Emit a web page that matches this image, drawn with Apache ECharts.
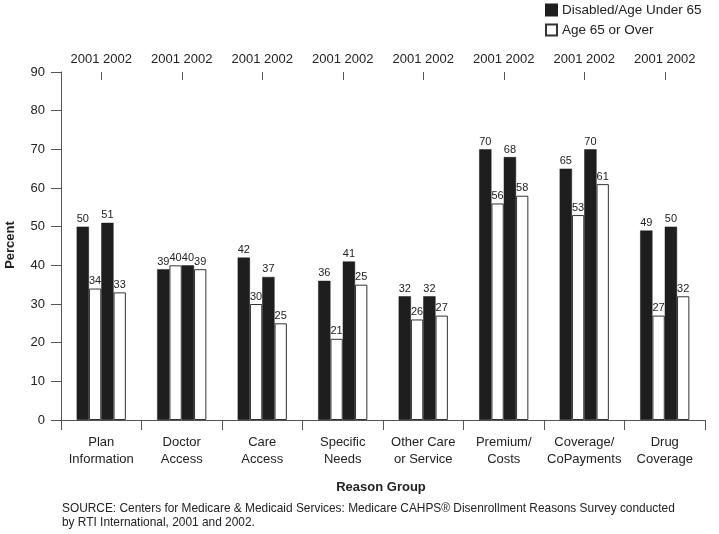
<!DOCTYPE html>
<html>
<head>
<meta charset="utf-8">
<script src="https://cdn.jsdelivr.net/npm/echarts@6/dist/echarts.min.js"></script>
<style>html,body{margin:0;padding:0;background:#fff}#c{width:719px;height:534px}</style>
</head>
<body>
<div id="c"></div>
<script>
const categories = ['Plan\nInformation', 'Doctor\nAccess', 'Care\nAccess', 'Specific\nNeeds', 'Other Care\nor Service', 'Premium/\nCosts', 'Coverage/\nCoPayments', 'Drug\nCoverage'];
const yearLabel = '2001 2002';
const disabled2001 = [50, 39, 42, 36, 32, 70, 65, 49];
const age2001 = [34, 40, 30, 21, 26, 56, 53, 27];
const disabled2002 = [51, 40, 37, 41, 32, 68, 70, 50];
const age2002 = [33, 39, 25, 35, 27, 58, 61, 32];
const age2002Labels = ['33', '39', '25', '25', '27', '58', '61', '32'];
const yTicks = { min: 0, max: 90, interval: 10 };

const FONT = "'Liberation Sans', Arial, sans-serif";
const TXT = '#222';

const chart = echarts.init(document.getElementById('c'), null, { renderer: 'canvas' });

function barSeries(name, data, dark, labels) {
  return {
    name: name,
    type: 'bar',
    xAxisIndex: 0,
    data: data,
    barWidth: 12.3,
    barGap: '0%',
    itemStyle: dark
      ? { color: '#1e1e1e', borderColor: '#1e1e1e', borderWidth: 0.5 }
      : { color: '#ffffff', borderColor: '#333333', borderWidth: 1 },
    label: {
      show: true,
      position: 'top',
      distance: 2,
      fontFamily: FONT,
      fontSize: 11,
      color: TXT,
      formatter: labels ? (p) => labels[p.dataIndex] : '{c}'
    },
    emphasis: { disabled: true },
    animation: false
  };
}

const option = {
  backgroundColor: '#fff',
  animation: false,
  textStyle: { fontFamily: FONT },
  legend: {
    data: ['Disabled/Age Under 65', 'Age 65 or Over'],
    orient: 'vertical',
    left: 545,
    top: 3,
    padding: 0,
    icon: 'rect',
    itemWidth: 11,
    itemHeight: 11,
    itemGap: 6,
    textStyle: { fontFamily: FONT, fontSize: 13.5, color: TXT }
  },
  grid: { left: 61, right: 14, top: 72, bottom: 114, containLabel: false },
  xAxis: [
    {
      type: 'category',
      data: categories,
      position: 'bottom',
      axisLine: { show: true, lineStyle: { color: '#555', width: 1 } },
      axisTick: { show: true, length: 10, lineStyle: { color: '#555' } },
      axisLabel: { interval: 0, fontFamily: FONT, fontSize: 13, color: TXT, lineHeight: 17, margin: 14 }
    },
    {
      type: 'category',
      data: categories,
      position: 'top',
      axisLine: { show: false },
      axisTick: { show: true, inside: true, alignWithLabel: true, length: 8, interval: 0, lineStyle: { color: '#555' } },
      axisLabel: { interval: 0, fontFamily: FONT, fontSize: 13, color: TXT, margin: 6, formatter: () => yearLabel }
    }
  ],
  yAxis: {
    type: 'value',
    min: yTicks.min,
    max: yTicks.max,
    interval: yTicks.interval,
    axisLine: { show: true, lineStyle: { color: '#555', width: 1 } },
    axisTick: { show: true, length: 10, lineStyle: { color: '#555' } },
    axisLabel: { fontFamily: FONT, fontSize: 13, color: TXT, margin: 16 },
    splitLine: { show: false }
  },
  graphic: [
    { type: 'text', x: 10, y: 245, rotation: Math.PI / 2,
      style: { text: 'Percent', fontFamily: FONT, fontSize: 13, fontWeight: 'bold', fill: TXT, textAlign: 'center', textVerticalAlign: 'middle' } },
    { type: 'text', x: 381, y: 487,
      style: { text: 'Reason Group', fontFamily: FONT, fontSize: 13, fontWeight: 'bold', fill: TXT, textAlign: 'center', textVerticalAlign: 'middle' } },
    { type: 'text', x: 62, y: 502,
      style: { text: 'SOURCE: Centers for Medicare & Medicaid Services: Medicare CAHPS\u00AE Disenrollment Reasons Survey conducted\nby RTI International, 2001 and 2002.', fontFamily: FONT, fontSize: 11.9, lineHeight: 14, fill: TXT, textAlign: 'left', textVerticalAlign: 'top' } }
  ],
  series: [
    barSeries('Disabled/Age Under 65', disabled2001, true),
    barSeries('Age 65 or Over', age2001, false),
    barSeries('Disabled/Age Under 65', disabled2002, true),
    barSeries('Age 65 or Over', age2002, false, age2002Labels)
  ]
};
chart.setOption(option);
</script>
</body>
</html>
